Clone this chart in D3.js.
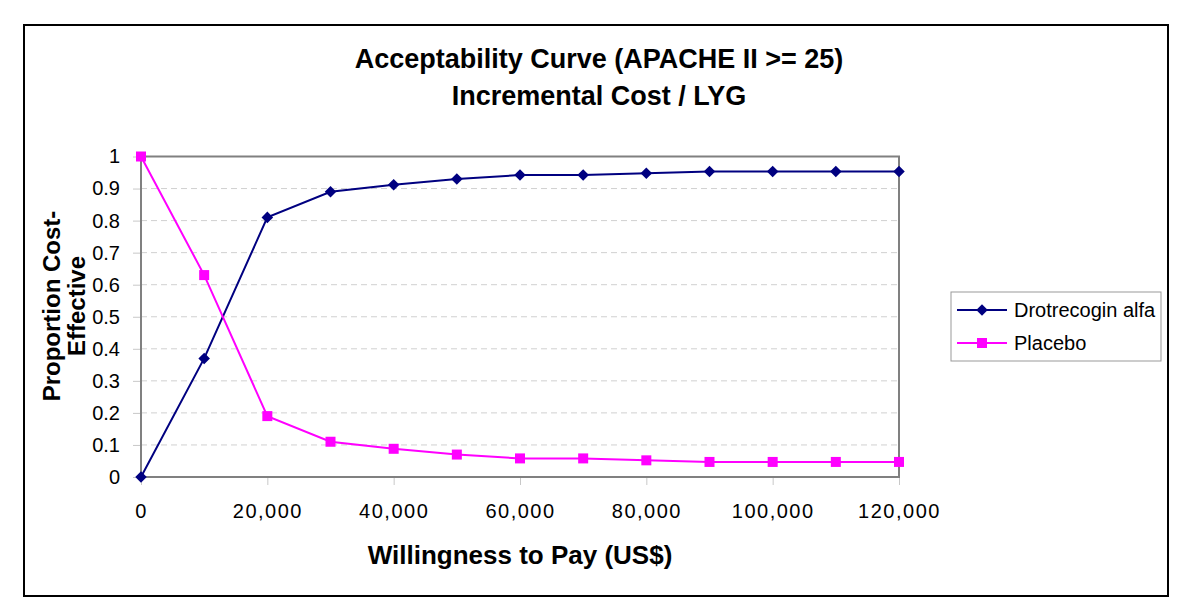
<!DOCTYPE html>
<html><head><meta charset="utf-8">
<script src="https://cdn.jsdelivr.net/npm/d3@7"></script>
<style>
html,body{margin:0;padding:0;background:#fff;}
text{font-family:Arial,"Liberation Sans",sans-serif;}
</style></head>
<body>
<svg id="c" width="1200" height="615"></svg>
<script>
const wtp = [0,10000,20000,30000,40000,50000,60000,70000,80000,90000,100000,110000,120000];
const drotrecogin = [0,0.37,0.81,0.89,0.912,0.93,0.942,0.942,0.948,0.953,0.953,0.953,0.953];
const placebo = [1,0.63,0.19,0.11,0.088,0.07,0.058,0.058,0.052,0.047,0.047,0.047,0.047];
const xTicks = [0,20000,40000,60000,80000,100000,120000];
const yTicks = [0,0.1,0.2,0.3,0.4,0.5,0.6,0.7,0.8,0.9,1];
const seriesNames = ["Drotrecogin alfa","Placebo"];
const titleLines = ["Acceptability Curve (APACHE II >= 25)","Incremental Cost / LYG"];
const xTitle = "Willingness to Pay (US$)";
const yTitleLines = ["Proportion Cost-","Effective"];

const svg = d3.select("#c");
const L=141,R=899,T=156.5,B=477;
const x = d3.scaleLinear().domain([0,120000]).range([L,R]);
const y = d3.scaleLinear().domain([0,1]).range([B,T]);
const navy="#000080", mag="#FF00FF";

// outer frame
svg.append("rect").attr("x",24).attr("y",25).attr("width",1144).attr("height",571)
  .attr("fill","#fff").attr("stroke","#000").attr("stroke-width",2);

// titles
svg.selectAll("text.title").data(titleLines).enter().append("text")
  .attr("x",599).attr("y",(d,i)=>68+i*37).attr("text-anchor","middle")
  .attr("font-weight","bold").attr("font-size",27).text(d=>d);

// gridlines
svg.append("g").selectAll("line").data(yTicks.filter(v=>v>0&&v<1)).enter().append("line")
  .attr("x1",L).attr("x2",R).attr("y1",d=>y(d)).attr("y2",d=>y(d))
  .attr("stroke","#d0d0d0").attr("stroke-width",1).attr("stroke-dasharray","6,4");

// y axis
const yAxis = d3.axisLeft(y).tickValues(yTicks).tickSize(8).tickPadding(13)
  .tickFormat(d=>d===0?"0":d===1?"1":d3.format(".1f")(d));
const gy = svg.append("g").attr("transform",`translate(${L},0)`).call(yAxis);
gy.select(".domain").remove();
gy.selectAll(".tick line").attr("stroke","#c8c8c8");
gy.selectAll(".tick text").attr("font-size",20).attr("fill","#000")
  .attr("font-family","Arial,'Liberation Sans',sans-serif");

// x axis
const xAxis = d3.axisBottom(x).tickValues(xTicks).tickSize(8).tickPadding(19)
  .tickFormat(d3.format(","));
const gx = svg.append("g").attr("transform",`translate(0,${B})`).call(xAxis);
gx.select(".domain").remove();
gx.selectAll(".tick line").attr("stroke","#c8c8c8");
gx.selectAll(".tick text").attr("font-size",20).attr("fill","#000")
  .attr("letter-spacing","1.5px")
  .attr("font-family","Arial,'Liberation Sans',sans-serif");

// plot border
svg.append("rect").attr("x",L).attr("y",T).attr("width",R-L).attr("height",B-T)
  .attr("fill","none").attr("stroke","#808080").attr("stroke-width",2);

// axis titles
svg.append("text").attr("x",(L+R)/2).attr("y",564).attr("text-anchor","middle")
  .attr("font-weight","bold").attr("font-size",26).text(xTitle);
svg.selectAll("text.yt").data(yTitleLines).enter().append("text")
  .attr("transform",(d,i)=>`translate(${60+i*25},306) rotate(-90)`)
  .attr("text-anchor","middle").attr("font-weight","bold").attr("font-size",24).text(d=>d);

// lines
const line = d3.line().x((d,i)=>x(wtp[i])).y(d=>y(d));
svg.append("path").datum(drotrecogin).attr("d",line).attr("fill","none").attr("stroke",navy).attr("stroke-width",2);
svg.append("path").datum(placebo).attr("d",line).attr("fill","none").attr("stroke",mag).attr("stroke-width",2);

const diamond = d3.symbol().type(d3.symbolDiamond2).size(85);
svg.append("g").selectAll("path").data(drotrecogin).enter().append("path")
  .attr("d",diamond).attr("transform",(d,i)=>`translate(${x(wtp[i])},${y(d)})`)
  .attr("fill",navy);
svg.append("g").selectAll("rect").data(placebo).enter().append("rect")
  .attr("x",(d,i)=>x(wtp[i])-5).attr("y",d=>y(d)-5).attr("width",10).attr("height",10)
  .attr("fill",mag);

// legend
const lg = svg.append("g");
lg.append("rect").attr("x",951).attr("y",292).attr("width",210).attr("height",69)
  .attr("fill","#fff").attr("stroke","#999").attr("stroke-width",1);
const rows = [{n:seriesNames[0],c:navy,s:"d"},{n:seriesNames[1],c:mag,s:"s"}];
rows.forEach((r,i)=>{
  const yy = 310+i*33;
  lg.append("line").attr("x1",957).attr("x2",1007).attr("y1",yy).attr("y2",yy).attr("stroke",r.c).attr("stroke-width",2);
  if(r.s==="d") lg.append("path").attr("d",diamond).attr("transform",`translate(982,${yy})`).attr("fill",r.c);
  else lg.append("rect").attr("x",977).attr("y",yy-5).attr("width",10).attr("height",10).attr("fill",r.c);
  lg.append("text").attr("x",1014).attr("y",yy+7).attr("font-size",20).text(r.n);
});
</script>
</body></html>
